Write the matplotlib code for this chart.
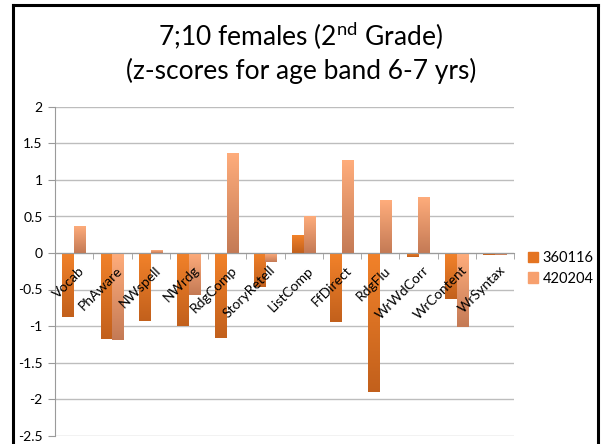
import numpy as np
import matplotlib.pyplot as plt
from matplotlib.colors import LinearSegmentedColormap
from matplotlib.lines import Line2D

categories = ["Vocab", "PhAware", "NWspell", "NWrdg", "RdgComp", "StoryRetell",
              "ListComp", "FfDirect", "RdgFlu", "WrWdCorr", "WrContent", "WrSyntax"]
s360116 = [-0.88, -1.18, -0.93, -1.00, -1.16, -0.47, 0.24, -0.94, -1.91, -0.05, -0.63, -0.03]
s420204 = [0.37, -1.19, 0.04, -0.58, 1.37, -0.12, 0.51, 1.27, 0.72, 0.77, -1.01, -0.03]
series_names = ["360116", "420204"]
yticks = [2, 1.5, 1, 0.5, 0, -0.5, -1, -1.5, -2, -2.5]

plt.rcParams['font.family'] = ['Lato', 'DejaVu Sans']

fig = plt.figure(figsize=(6.02, 4.44), dpi=100)
ax = fig.add_axes([55 / 602, 1 - 435.5 / 444, (514 - 55) / 602, (435.5 - 107) / 444])

cmaps = [
    LinearSegmentedColormap.from_list("c1", ["#C2601C", "#F2822A"]),
    LinearSegmentedColormap.from_list("c2", ["#C47A55", "#FFAD7C"]),
]
solid = ["#E47422", "#F7A06E"]

x = np.arange(len(categories))
w = 0.305
grad = np.linspace(0, 1, 256).reshape(-1, 1)
for k, vals in enumerate([s360116, s420204]):
    offs = (k - 0.5) * w
    bars = ax.bar(x + offs, vals, width=w, color=solid[k], zorder=3)
    for b, v in zip(bars, vals):
        x0 = b.get_x()
        lo, hi = min(0, v), max(0, v)
        im = ax.imshow(grad, extent=[x0, x0 + w, lo, hi], origin='lower',
                       cmap=cmaps[k], aspect='auto', zorder=4)
        im.set_clip_path(b)

ax.set_xlim(-0.5, len(categories) - 0.5)
ax.set_ylim(-2.5, 2)
ax.set_yticks(yticks)
ax.set_yticklabels([f"{t:g}" for t in yticks], fontsize=10)
ax.yaxis.grid(True, color="#BDBDBD", linewidth=1, zorder=0)
ax.tick_params(axis='y', length=5, color="#9A9A9A", pad=4)

ax.spines['bottom'].set_position(('data', 0))
ax.spines['bottom'].set_color("#9A9A9A")
ax.spines['bottom'].set_zorder(5)
ax.spines['left'].set_color("#9A9A9A")
ax.spines['top'].set_visible(False)
ax.spines['right'].set_visible(False)

ax.set_xticks(np.arange(len(categories) + 1) - 0.5, minor=True)
ax.set_xticks(x)
ax.set_xticklabels([])
ax.tick_params(axis='x', which='minor', length=4, color="#9A9A9A", direction='out')
ax.tick_params(axis='x', which='major', length=0)

for i, name in enumerate(categories):
    ax.annotate(name, xy=(i + 0.1, 0), xytext=(0, -8), textcoords='offset points',
                rotation=45, ha='right', va='top', rotation_mode='anchor',
                fontsize=10, zorder=6, annotation_clip=False)

fig.text(0.5, 1 - 36 / 444, "7;10 females (2$^{\\mathregular{nd}}$ Grade)",
         ha='center', va='center', fontsize=19)
fig.text(0.5, 1 - 71 / 444, "(z-scores for age band 6-7 yrs)",
         ha='center', va='center', fontsize=19)

handles = [plt.Rectangle((0, 0), 1, 1, color=c) for c in solid]
fig.legend(handles, series_names, loc='upper left', bbox_to_anchor=(528 / 602, 1 - 251 / 444),
           frameon=False, fontsize=10.5, handlelength=0.7, handleheight=0.7,
           handletextpad=0.3, labelspacing=0.45, borderaxespad=0, borderpad=0)

for xs, ys in [([13, 13], [444, 5]), ([13, 598], [5, 5]), ([598, 598], [5, 444])]:
    fig.add_artist(Line2D([v / 602 for v in xs], [1 - v / 444 for v in ys],
                          color="black", linewidth=2.2))

fig.savefig("out.png", dpi=100)
